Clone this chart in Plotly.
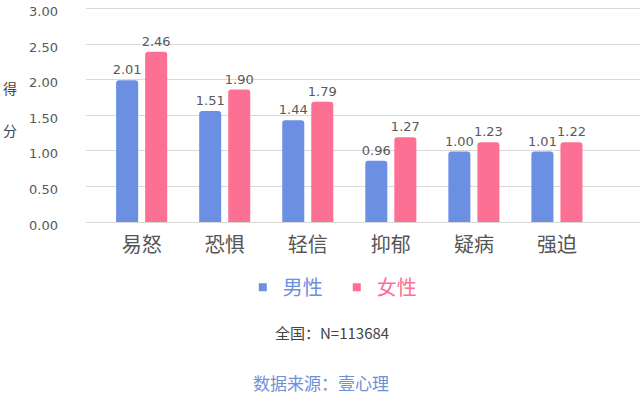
import plotly.graph_objects as go

categories = ["易怒", "恐惧", "轻信", "抑郁", "疑病", "强迫"]
# bar heights as drawn in the picture
male_heights = [1.99, 1.56, 1.43, 0.86, 0.99, 0.99]
female_heights = [2.39, 1.86, 1.69, 1.19, 1.12, 1.12]
# value labels as printed
male_labels = ["2.01", "1.51", "1.44", "0.96", "1.00", "1.01"]
female_labels = ["2.46", "1.90", "1.79", "1.27", "1.23", "1.22"]
series_names = ["男性", "女性"]
y_ticks = [0, 0.5, 1.0, 1.5, 2.0, 2.5, 3.0]
y_tick_labels = ["0.00", "0.50", "1.00", "1.50", "2.00", "2.50", "3.00"]

BLUE = "#6a8fe3"
PINK = "#fb7093"
NUM_FONT = "DejaVu Sans"
CJK_FONT = "Noto Sans CJK SC"

fig = go.Figure()
for heights, labels, color in [(male_heights, male_labels, BLUE),
                               (female_heights, female_labels, PINK)]:
    fig.add_trace(go.Bar(
        x=categories, y=heights, showlegend=False,
        marker=dict(color=color, line=dict(width=0)),
        text=labels, textposition="outside", cliponaxis=False,
        constraintext="none",
        textfont=dict(family=NUM_FONT, size=13, color="#595959"),
    ))

# legend entries: small squares with coloured names
for name, color in zip(series_names, [BLUE, PINK]):
    fig.add_trace(go.Scatter(
        x=[None], y=[None], mode="markers",
        marker=dict(symbol="square", size=8, color=color),
        name="<span style='color:%s'>%s</span>" % (color, name),
        showlegend=True,
    ))

fig.update_layout(
    width=640, height=395,
    margin=dict(l=86, r=0, t=7, b=173),
    paper_bgcolor="white", plot_bgcolor="white",
    barmode="group", bargap=0.301, bargroupgap=0.241,
    barcornerradius=3,
    showlegend=True,
    legend=dict(
        orientation="h", x=0.283, xanchor="left", y=-0.304, yanchor="middle",
        font=dict(family=CJK_FONT, size=20, color="#555"),
        itemwidth=30, itemclick=False, traceorder="normal",
        entrywidth=49, entrywidthmode="pixels",
    ),
    xaxis=dict(
        type="category", range=[-0.67, 6.0], automargin=False,
        showgrid=False, showline=False, zeroline=False, ticks="",
        tickfont=dict(family=CJK_FONT, size=20, color="#555"),
        ticklabelstandoff=9,
    ),
    yaxis=dict(
        range=[0, 3.02], tickvals=y_ticks, ticktext=y_tick_labels,
        automargin=False,
        showgrid=True, gridcolor="#d9d9d9", gridwidth=1,
        zeroline=True, zerolinecolor="#d9d9d9", zerolinewidth=1,
        showline=False, ticks="",
        tickfont=dict(family=NUM_FONT, size=13, color="#595959"),
        ticklabelstandoff=27, ticklabelshift=3,
    ),
    annotations=[
        dict(text="得", xref="paper", yref="paper", x=-0.137, y=0.622,
             xanchor="center", yanchor="middle",
             showarrow=False, font=dict(family=CJK_FONT, size=14, color="#444")),
        dict(text="分", xref="paper", yref="paper", x=-0.137, y=0.427,
             xanchor="center", yanchor="middle",
             showarrow=False, font=dict(family=CJK_FONT, size=14, color="#444")),
        dict(text="全国：N=113684", xref="paper", yref="paper", x=0.444, y=-0.513,
             xanchor="center", yanchor="middle",
             showarrow=False, font=dict(family=CJK_FONT, size=15, color="#444")),
        dict(text="数据来源：壹心理", xref="paper", yref="paper", x=0.424, y=-0.748,
             xanchor="center", yanchor="middle",
             showarrow=False, font=dict(family=CJK_FONT, size=17, color="#6f8fd8")),
    ],
)

fig.write_html("out.html", config={"displayModeBar": False},
               post_script="document.body.style.margin='0';")
